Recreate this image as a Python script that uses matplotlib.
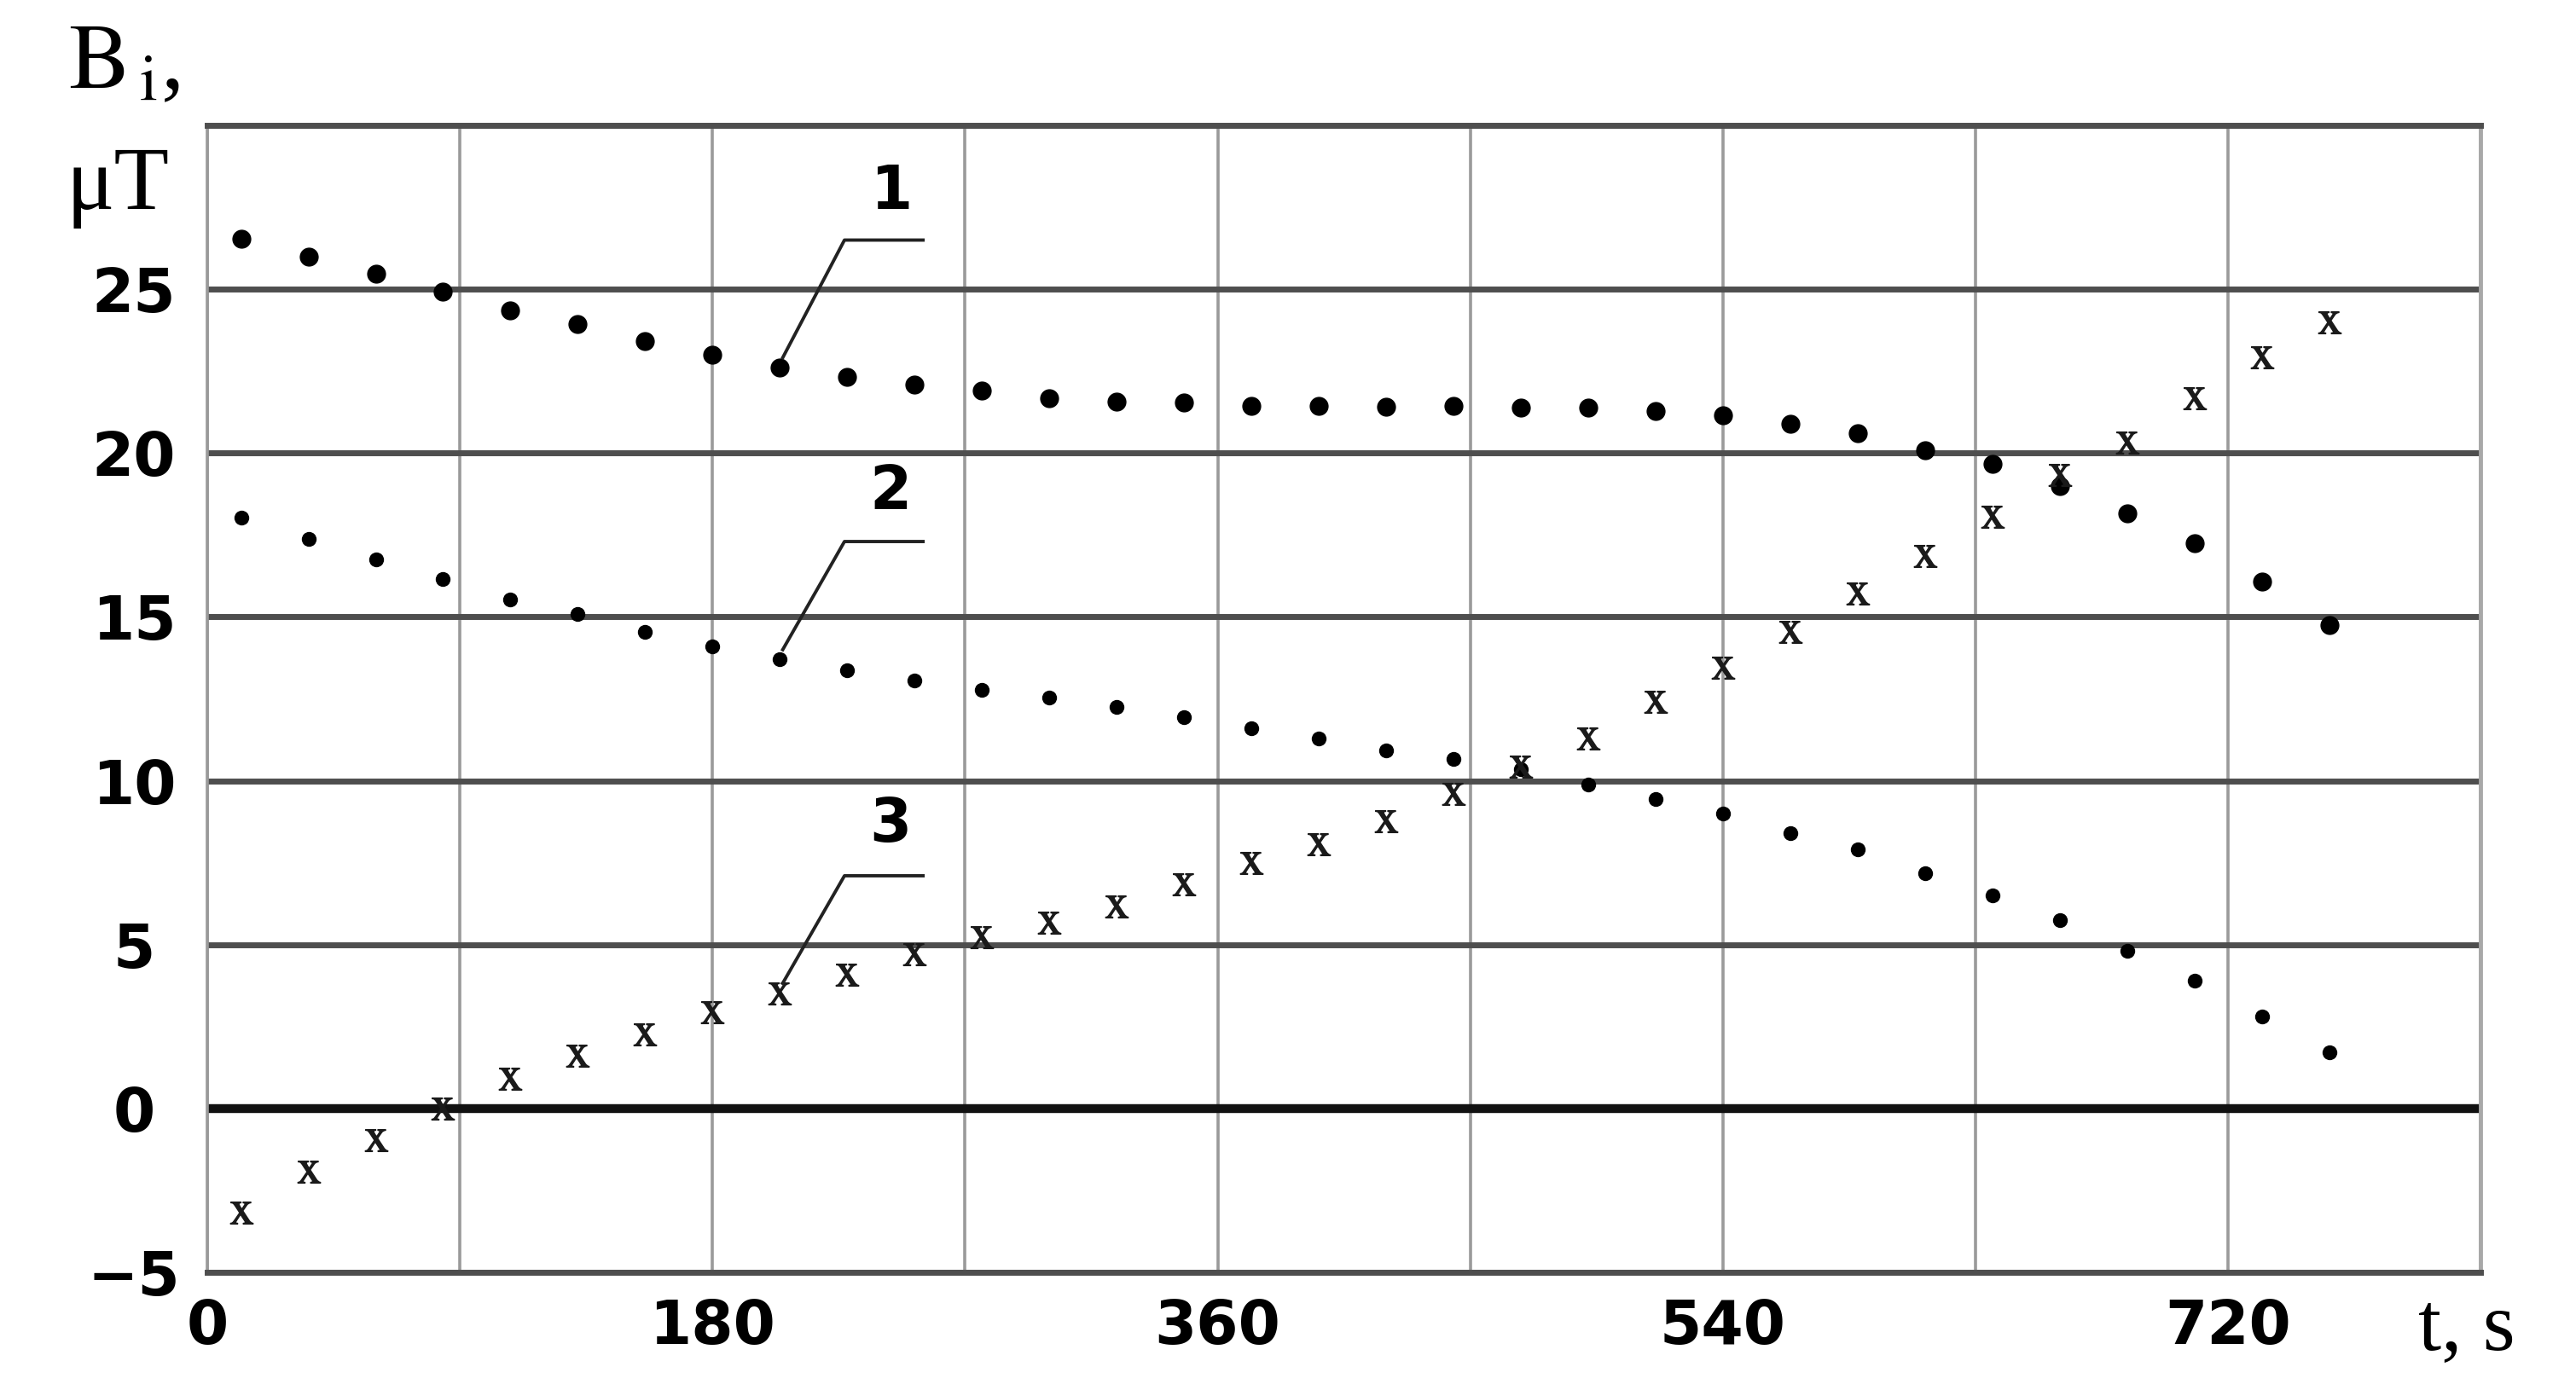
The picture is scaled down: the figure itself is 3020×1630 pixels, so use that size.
import matplotlib.pyplot as plt

plt.rcParams['mathtext.fontset'] = 'stix'

# time of each reading, s
t = [12, 36, 60, 84, 108, 132, 156, 180, 204, 228, 252, 276, 300, 324, 348, 372,
     396, 420, 444, 468, 492, 516, 540, 564, 588, 612, 636, 660, 684, 708, 732, 756]

# induction readings, uT
b1 = [26.53, 26.00, 25.47, 24.92, 24.35, 23.94, 23.41, 23.00, 22.61, 22.32, 22.08,
      21.92, 21.68, 21.56, 21.53, 21.43, 21.43, 21.41, 21.44, 21.39, 21.39, 21.27,
      21.15, 20.88, 20.61, 20.09, 19.66, 19.00, 18.17, 17.25, 16.07, 14.76]
b2 = [18.02, 17.38, 16.75, 16.15, 15.53, 15.08, 14.55, 14.10, 13.70, 13.38, 13.07,
      12.76, 12.55, 12.25, 11.94, 11.60, 11.30, 10.93, 10.66, 10.35, 9.89, 9.43,
      9.00, 8.39, 7.90, 7.19, 6.51, 5.74, 4.82, 3.90, 2.81, 1.71]
b3 = [-3.19, -1.94, -0.97, 0.00, 0.91, 1.62, 2.27, 2.93, 3.52, 4.08, 4.70, 5.23,
      5.68, 6.16, 6.84, 7.50, 8.07, 8.77, 9.60, 10.43, 11.30, 12.42, 13.44, 14.55,
      15.72, 16.85, 18.05, 19.32, 20.33, 21.67, 22.92, 24.00]

x_ticks = [0, 180, 360, 540, 720]
x_minor = [90, 270, 450, 630, 810]
y_ticks = [-5, 0, 5, 10, 15, 20, 25, 30]
y_labels = ['\u22125', '0', '5', '10', '15', '20', '25', '']

fig = plt.figure(figsize=(30.2, 16.3), dpi=100)
ax = fig.add_axes([0.0805, 0.0847, 0.8825, 0.8251])
ax.set_xlim(0, 810)
ax.set_ylim(-5, 30)

ax.set_xticks(x_ticks)
ax.set_xticks(x_minor, minor=True)
ax.set_yticks(y_ticks)
ax.set_yticklabels(y_labels)
ax.grid(which='both', axis='x', color='#9a9a9a', lw=2.6)
ax.grid(which='major', axis='y', color='#4e4e4e', lw=5)
ax.axhline(0, color='#111111', lw=7.5)
ax.set_axisbelow(True)

for side in ['top', 'bottom']:
    ax.spines[side].set_color('#4e4e4e')
    ax.spines[side].set_linewidth(5)
ax.spines['left'].set_color('#9a9a9a')
ax.spines['left'].set_linewidth(2.6)
ax.spines['right'].set_color('#a8a8a8')
ax.spines['right'].set_linewidth(3.5)

tick_font = dict(family='DejaVu Sans', weight='bold', size=51)
ax.tick_params(which='both', length=0)
ax.tick_params(axis='y', pad=62)
ax.tick_params(axis='x', pad=22)
for lab in ax.get_yticklabels():
    lab.set_fontproperties(tick_font)
    lab.set_ha('center')
for lab in ax.get_xticklabels():
    lab.set_fontproperties(tick_font)

ax.plot(t, b1, ls='none', marker='o', ms=15, color='black', zorder=5)
ax.plot(t, b2, ls='none', marker='o', ms=11.5, color='black', zorder=5)
ax.plot(t, b3, ls='none', marker=r'$\mathrm{x}$', ms=19, color='#1a1a1a', zorder=5)

# numbered leader lines to the 9th reading of each curve
for name, series, corner_y, label_y in [('1', b1, 26.5, 27.95),
                                         ('2', b2, 17.3, 18.8),
                                         ('3', b3, 7.1, 8.64)]:
    ax.plot([t[8] + 1, 227, 255], [series[8] + 0.3, corner_y, corner_y],
            color='#222222', lw=2.8, zorder=6)
    ax.text(243.5, label_y, name, ha='center', va='center', zorder=6, **tick_font)

fig.text(80 / 3020, 1 - 103 / 1630, r'$\mathrm{B}_{\,\mathrm{i}}$,', family='Liberation Serif',
         size=78, ha='left', va='baseline')
fig.text(77 / 3020, 1 - 245 / 1630, '\u03bcT', family='Liberation Serif',
         size=76, ha='left', va='baseline')
fig.text(2835 / 3020, 1 - 1583 / 1630, 't, s', family='Liberation Serif',
         size=70, ha='left', va='baseline')

plt.savefig('out.png', dpi=100)
